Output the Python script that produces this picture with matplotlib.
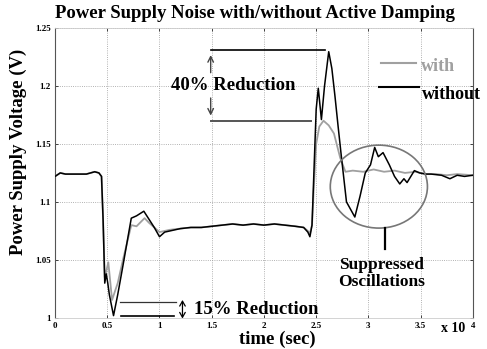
import matplotlib
matplotlib.use("Agg")
import matplotlib.pyplot as plt
from matplotlib.patches import Ellipse

# "without" active damping (black)
t_without = [0.0, 0.05, 0.1, 0.2, 0.3, 0.38, 0.42, 0.445, 0.46, 0.476, 0.49, 0.505, 0.52, 0.56, 0.6, 0.65,
             0.73, 0.78, 0.85, 0.9, 0.95, 1.0, 1.05, 1.1, 1.2, 1.3, 1.4, 1.5, 1.6, 1.7, 1.8, 1.9, 2.0,
             2.1, 2.2, 2.3, 2.38, 2.42, 2.44, 2.46, 2.476, 2.5, 2.52, 2.55, 2.58, 2.62, 2.65, 2.68,
             2.71, 2.74, 2.79, 2.87, 2.92, 2.97, 3.02, 3.06, 3.095, 3.14, 3.2, 3.25, 3.3, 3.34, 3.37,
             3.44, 3.49, 3.55, 3.6, 3.7, 3.78, 3.85, 3.92, 4.0]
v_without = [1.122, 1.125, 1.124, 1.124, 1.124, 1.126, 1.125, 1.122, 1.085, 1.030, 1.038, 1.030, 1.020, 1.002, 1.020, 1.045,
             1.086, 1.088, 1.092, 1.085, 1.078, 1.070, 1.074, 1.075, 1.077, 1.078, 1.078, 1.079, 1.080, 1.081, 1.080, 1.081, 1.080,
             1.081, 1.080, 1.079, 1.078, 1.074, 1.070, 1.080, 1.120, 1.180, 1.198, 1.171, 1.200, 1.2295, 1.215, 1.191,
             1.165, 1.140, 1.100, 1.087, 1.105, 1.125, 1.132, 1.147, 1.139, 1.1425, 1.132, 1.122, 1.1155, 1.120, 1.1167,
             1.127, 1.125, 1.124, 1.124, 1.123, 1.120, 1.123, 1.122, 1.123]

# "with" active damping (gray)
t_with = [0.0, 0.05, 0.1, 0.2, 0.3, 0.38, 0.42, 0.445, 0.46, 0.476, 0.49, 0.51, 0.53, 0.546, 0.6, 0.65,
          0.73, 0.78, 0.857, 0.9, 0.95, 1.0, 1.05, 1.1, 1.2, 1.3, 1.4, 1.5, 1.6, 1.7, 1.8, 1.9, 2.0,
          2.1, 2.2, 2.3, 2.38, 2.42, 2.44, 2.46, 2.476, 2.5, 2.53, 2.57, 2.62, 2.67, 2.73, 2.78,
          2.85, 2.95, 3.05, 3.15, 3.25, 3.35, 3.45, 3.55, 3.65, 3.75, 3.85, 4.0]
v_with = [1.122, 1.125, 1.124, 1.124, 1.124, 1.126, 1.125, 1.122, 1.085, 1.035, 1.040, 1.048, 1.030, 1.0155, 1.030, 1.050,
          1.080, 1.079, 1.086, 1.082, 1.078, 1.074, 1.075, 1.076, 1.077, 1.078, 1.078, 1.079, 1.080, 1.081, 1.080, 1.081, 1.080,
          1.081, 1.080, 1.079, 1.078, 1.075, 1.073, 1.080, 1.110, 1.150, 1.165, 1.170, 1.166, 1.159, 1.138, 1.126,
          1.127, 1.126, 1.128, 1.126, 1.127, 1.125, 1.126, 1.124, 1.124, 1.123, 1.124, 1.123]

x_ticks = [0, 0.5, 1, 1.5, 2, 2.5, 3, 3.5, 4]
x_tick_labels = ["0", "0.5", "1", "1.5", "2", "2.5", "3", "3.5", "4"]
y_ticks = [1.0, 1.05, 1.1, 1.15, 1.2, 1.25]
y_tick_labels = ["1", "1.05", "1.1", "1.15", "1.2", "1.25"]

serif = ["Liberation Serif", "DejaVu Serif"]
GRAY = "#a0a0a0"

fig = plt.figure(figsize=(4.87, 3.49), dpi=100)
ax = fig.add_axes([0.113, 0.089, 0.858, 0.831])
ax.set_xlim(0, 4)
ax.set_ylim(1.0, 1.25)

ax.plot(t_with, v_with, color=GRAY, lw=1.3, zorder=3)
ax.plot(t_without, v_without, color="black", lw=1.1, zorder=4)

ax.set_xticks(x_ticks)
ax.set_xticklabels(x_tick_labels, fontfamily=serif, fontweight="bold", fontsize=6.5)
ax.set_yticks(y_ticks)
ax.set_yticklabels(y_tick_labels, fontfamily=serif, fontweight="bold", fontsize=6.5)
ax.tick_params(length=2, width=0.5, direction="in", pad=3, top=True, right=True)
ax.grid(True, ls=":", color="#999999", lw=0.6)
for s in ["left", "right"]:
    ax.spines[s].set_color("#555555")
    ax.spines[s].set_linewidth(0.8)
for s in ["top", "bottom"]:
    ax.spines[s].set_color("#cccccc")
    ax.spines[s].set_linewidth(0.6)

fig.text(0.523, 0.96, "Power Supply Noise with/without Active Damping", ha="center", va="center",
         fontfamily=serif, fontweight="bold", fontsize=13.5)
ax.set_xlabel("time (sec)", fontfamily=serif, fontweight="bold", fontsize=13.5)
ax.xaxis.set_label_coords(0.533, -0.045)
ax.set_ylabel("Power Supply Voltage (V)", fontfamily=serif, fontweight="bold", fontsize=13.5)
ax.yaxis.set_label_coords(-0.066, 0.572)
ax.text(3.93, 0.9905, "x 10", fontfamily=serif, fontweight="bold", fontsize=10, ha="right", va="center",
        clip_on=False)

# 40% reduction annotation
ax.plot([1.49, 2.58], [1.231, 1.231], color="black", lw=1.2, zorder=5)
ax.plot([1.49, 2.45], [1.170, 1.170], color="#555555", lw=1.4, zorder=5)
ax.text(1.71, 1.2005, "40% Reduction", fontfamily=serif, fontweight="bold", fontsize=13.5,
        ha="center", va="center", zorder=6)
ax.annotate("", xy=(1.49, 1.229), xytext=(1.49, 1.209),
            arrowprops=dict(arrowstyle="->", color="#444444", lw=1.0))
ax.annotate("", xy=(1.49, 1.172), xytext=(1.49, 1.192),
            arrowprops=dict(arrowstyle="->", color="#444444", lw=1.0))

# legend-like marks
ax.plot([3.12, 3.46], [1.2196, 1.2196], color=GRAY, lw=1.5)
ax.text(3.5, 1.2164, "with", color=GRAY, fontfamily=serif, fontweight="bold", fontsize=13,
        va="center", ha="left")
ax.plot([3.10, 3.48], [1.1994, 1.1994], color="black", lw=1.5)
ax.text(3.51, 1.1922, "without", color="black", fontfamily=serif, fontweight="bold", fontsize=13,
        va="center", ha="left", clip_on=False)

# suppressed oscillations
ell = Ellipse((3.10, 1.1132), width=0.93, height=0.0715, fill=False, edgecolor="#777777", lw=1.2, zorder=5)
ax.add_patch(ell)
ax.plot([3.16, 3.16], [1.0775, 1.059], color="black", lw=1.6, zorder=5)
ax.text(3.13, 1.0385, "Suppressed\nOscillations", fontfamily=serif, fontweight="bold", fontsize=12.5,
        ha="center", va="center", linespacing=1.05)

# 15% reduction annotation
ax.plot([0.62, 1.16], [1.0135, 1.0135], color="#333333", lw=0.9)
ax.plot([0.63, 1.14], [1.0015, 1.0015], color="black", lw=1.2)
ax.annotate("", xy=(1.22, 1.0155), xytext=(1.22, 0.9995),
            arrowprops=dict(arrowstyle="<->,head_length=0.35,head_width=0.2", color="black", lw=0.9,
                            shrinkA=0, shrinkB=0))
ax.text(1.33, 1.0075, "15% Reduction", fontfamily=serif, fontweight="bold", fontsize=13.5,
        ha="left", va="center")

fig.savefig("out.png", dpi=100)
